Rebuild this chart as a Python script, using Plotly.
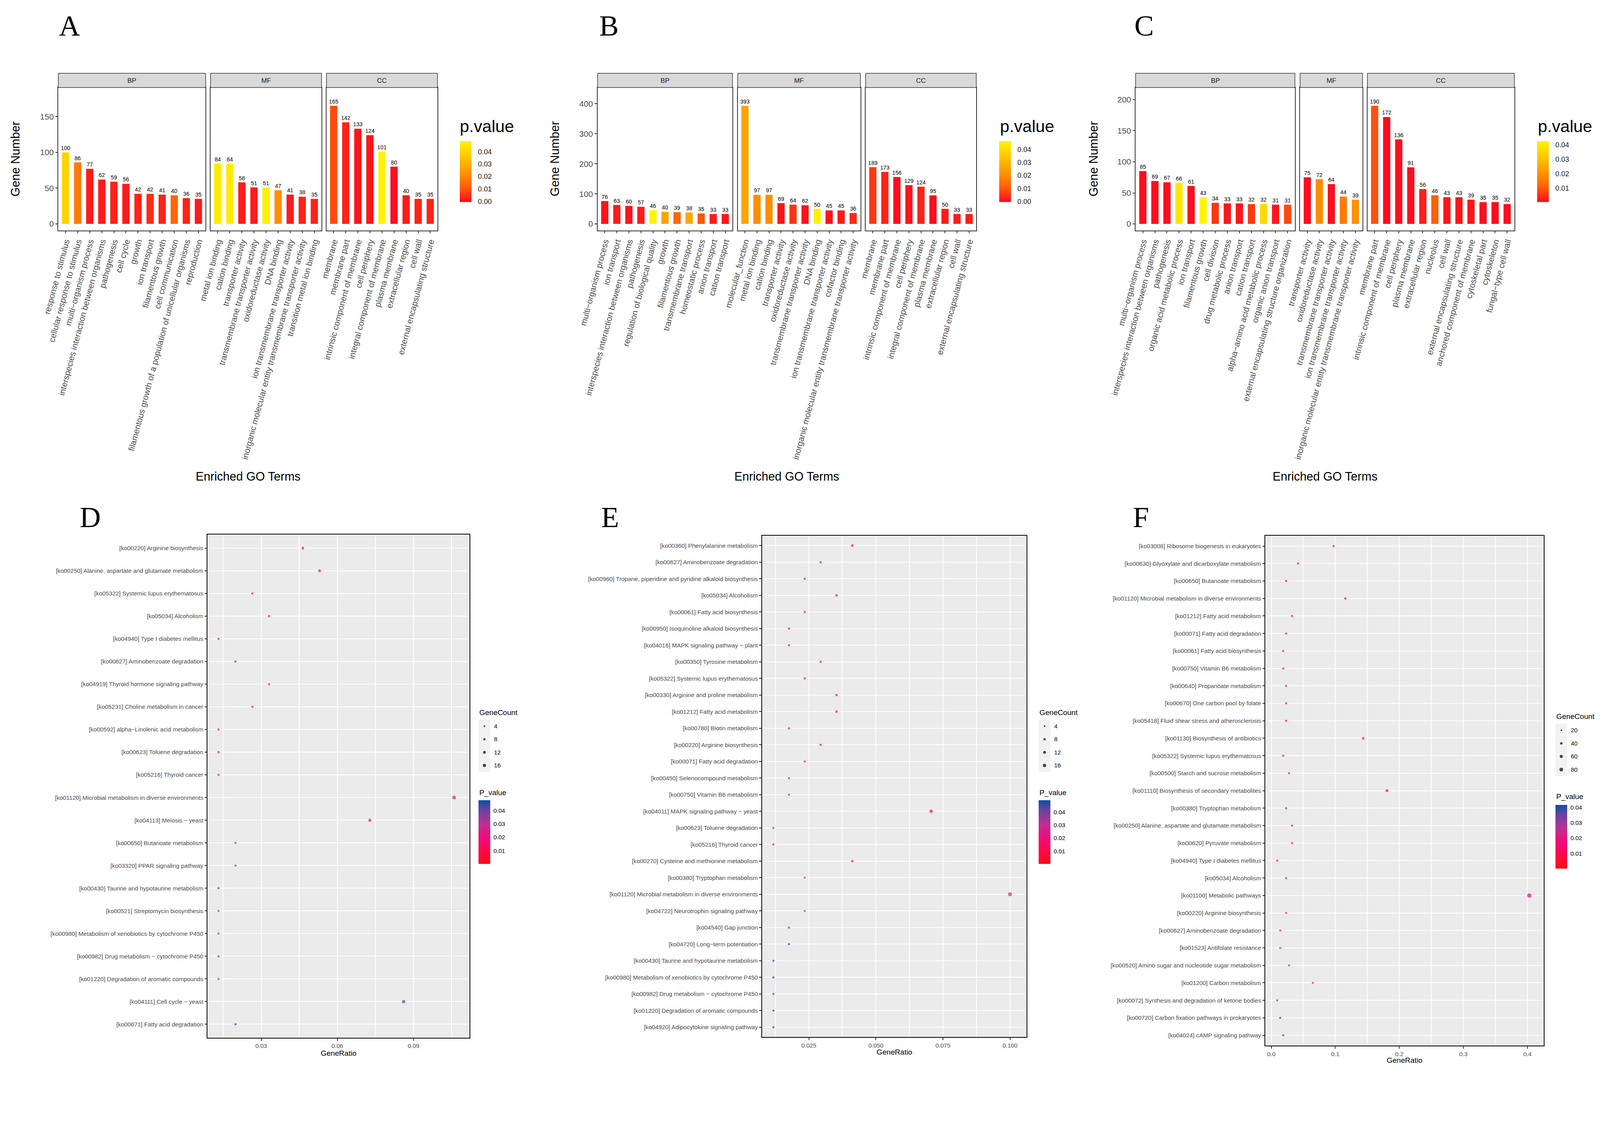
import plotly.graph_objects as go

# Design coordinates are taken from the 4279x2869 reference; the page is laid out
# in CSS pixels of a 4096-wide viewport, so everything is scaled by S.
REF_W, REF_H = 4279, 2869
S = 4096 / 4279
OFF = 8  # default body margin of the page
FW = 4096 - OFF
FH = int(round(REF_H * S - OFF))
FONT = "Liberation Sans"
SERIF = "Liberation Serif"

# ---------------- DATA ----------------
A_BP_terms = ["response to stimulus", "cellular response to stimulus", "multi−organism process",
              "interspecies interaction between organisms", "pathogenesis", "cell cycle", "growth",
              "ion transport", "filamentous growth", "cell communication",
              "filamentous growth of a population of unicellular organisms", "reproduction"]
A_BP_counts = [100, 86, 77, 62, 59, 56, 42, 42, 41, 40, 36, 35]
A_BP_p = [0.039, 0.018, 0.002, 0.002, 0.003, 0.002, 0.003, 0.0045, 0.003, 0.013, 0.003, 0.002]
A_MF_terms = ["metal ion binding", "cation binding", "transporter activity",
              "transmembrane transporter activity", "oxidoreductase activity", "DNA binding",
              "ion transmembrane transporter activity",
              "inorganic molecular entity transmembrane transporter activity", "transition metal ion binding"]
A_MF_counts = [84, 84, 58, 51, 51, 47, 41, 38, 35]
A_MF_p = [0.046, 0.046, 0.002, 0.002, 0.047, 0.022, 0.002, 0.003, 0.003]
A_CC_terms = ["membrane", "membrane part", "intrinsic component of membrane", "cell periphery",
              "integral component of membrane", "plasma membrane", "extracellular region", "cell wall",
              "external encapsulating structure"]
A_CC_counts = [165, 142, 133, 124, 101, 80, 40, 35, 35]
A_CC_p = [0.009, 0.003, 0.001, 0.001, 0.0486, 0.0001, 0.002, 0.003, 0.003]

B_BP_terms = ["multi−organism process", "ion transport", "interspecies interaction between organisms",
              "pathogenesis", "regulation of biological quality", "growth", "filamentous growth",
              "transmembrane transport", "homeostatic process", "anion transport", "cation transport"]
B_BP_counts = [76, 63, 60, 57, 46, 40, 39, 38, 35, 33, 33]
B_BP_p = [0.001, 0.002, 0.001, 0.002, 0.0464, 0.026, 0.0125, 0.027, 0.010, 0.002, 0.001]
B_MF_terms = ["molecular_function", "metal ion binding", "cation binding", "transporter activity",
              "oxidoreductase activity", "transmembrane transporter activity", "DNA binding",
              "ion transmembrane transporter activity", "cofactor binding",
              "inorganic molecular entity transmembrane transporter activity"]
B_MF_counts = [393, 97, 97, 69, 64, 62, 50, 45, 45, 36]
B_MF_p = [0.026, 0.021, 0.021, 0.001, 0.0055, 0.001, 0.0455, 0.001, 0.002, 0.004]
B_CC_terms = ["membrane", "membrane part", "intrinsic component of membrane", "cell periphery",
              "integral component of membrane", "plasma membrane", "extracellular region", "cell wall",
              "external encapsulating structure"]
B_CC_counts = [189, 173, 156, 129, 124, 95, 50, 33, 33]
B_CC_p = [0.006, 0.003, 0.0002, 0.001, 0.003, 0.0001, 0.002, 0.002, 0.002]

C_BP_terms = ["multi−organism process", "interspecies interaction between organisms", "pathogenesis",
              "organic acid metabolic process", "ion transport", "filamentous growth", "cell division",
              "drug metabolic process", "anion transport", "cation transport",
              "alpha−amino acid metabolic process", "organic anion transport",
              "external encapsulating structure organization"]
C_BP_counts = [85, 69, 67, 66, 61, 43, 34, 33, 33, 32, 32, 31, 31]
C_BP_p = [0.001, 0.001, 0.001, 0.039, 0.001, 0.0425, 0.006, 0.002, 0.002, 0.006, 0.036, 0.002, 0.008]
C_MF_terms = ["transporter activity", "oxidoreductase activity", "transmembrane transporter activity",
              "ion transmembrane transporter activity",
              "inorganic molecular entity transmembrane transporter activity"]
C_MF_counts = [75, 72, 64, 44, 39]
C_MF_p = [0.001, 0.019, 0.001, 0.016, 0.020]
C_CC_terms = ["membrane part", "intrinsic component of membrane", "cell periphery", "plasma membrane",
              "extracellular region", "nucleolus", "cell wall", "external encapsulating structure",
              "anchored component of membrane", "cytoskeletal part", "cytoskeleton", "fungal−type cell wall"]
C_CC_counts = [190, 172, 136, 91, 56, 46, 43, 43, 39, 35, 35, 32]
C_CC_p = [0.009, 0.0005, 0.001, 0.001, 0.003, 0.011, 0.002, 0.002, 0.002, 0.001, 0.001, 0.001]

D_terms = ["[ko00220] Arginine biosynthesis", "[ko00250] Alanine, aspartate and glutamate metabolism",
           "[ko05322] Systemic lupus erythematosus", "[ko05034] Alcoholism", "[ko04940] Type I diabetes mellitus",
           "[ko00627] Aminobenzoate degradation", "[ko04919] Thyroid hormone signaling pathway",
           "[ko05231] Choline metabolism in cancer", "[ko00592] alpha−Linolenic acid metabolism",
           "[ko00623] Toluene degradation", "[ko05216] Thyroid cancer",
           "[ko01120] Microbial metabolism in diverse environments", "[ko04113] Meiosis − yeast",
           "[ko00650] Butanoate metabolism", "[ko03320] PPAR signaling pathway",
           "[ko00430] Taurine and hypotaurine metabolism", "[ko00521] Streptomycin biosynthesis",
           "[ko00980] Metabolism of xenobiotics by cytochrome P450", "[ko00982] Drug metabolism − cytochrome P450",
           "[ko01220] Degradation of aromatic compounds", "[ko04111] Cell cycle − yeast",
           "[ko00071] Fatty acid degradation"]
D_ratio = [0.0464, 0.0530, 0.0265, 0.0331, 0.0132, 0.0199, 0.0331, 0.0265, 0.0132, 0.0132, 0.0132,
           0.1060, 0.0728, 0.0199, 0.0199, 0.0132, 0.0132, 0.0132, 0.0132, 0.0132, 0.0861, 0.0199]
D_count = [7, 8, 4, 5, 2, 3, 5, 4, 2, 2, 2, 16, 11, 3, 3, 2, 2, 2, 2, 2, 13, 3]
D_p = [0.0001, 0.001, 0.003, 0.004, 0.008, 0.005, 0.006, 0.007, 0.012, 0.014, 0.014, 0.026, 0.028,
       0.033, 0.033, 0.036, 0.036, 0.036, 0.036, 0.036, 0.041, 0.0475]
D_size_breaks = [4, 8, 12, 16]

E_terms = ["[ko00360] Phenylalanine metabolism", "[ko00627] Aminobenzoate degradation",
           "[ko00960] Tropane, piperidine and pyridine alkaloid biosynthesis", "[ko05034] Alcoholism",
           "[ko00061] Fatty acid biosynthesis", "[ko00950] Isoquinoline alkaloid biosynthesis",
           "[ko04016] MAPK signaling pathway − plant", "[ko00350] Tyrosine metabolism",
           "[ko05322] Systemic lupus erythematosus", "[ko00330] Arginine and proline metabolism",
           "[ko01212] Fatty acid metabolism", "[ko00780] Biotin metabolism", "[ko00220] Arginine biosynthesis",
           "[ko00071] Fatty acid degradation", "[ko00450] Selenocompound metabolism",
           "[ko00750] Vitamin B6 metabolism", "[ko04011] MAPK signaling pathway − yeast",
           "[ko00623] Toluene degradation", "[ko05216] Thyroid cancer",
           "[ko00270] Cysteine and methionine metabolism", "[ko00380] Tryptophan metabolism",
           "[ko01120] Microbial metabolism in diverse environments", "[ko04722] Neurotrophin signaling pathway",
           "[ko04540] Gap junction", "[ko04720] Long−term potentiation",
           "[ko00430] Taurine and hypotaurine metabolism", "[ko00980] Metabolism of xenobiotics by cytochrome P450",
           "[ko00982] Drug metabolism − cytochrome P450", "[ko01220] Degradation of aromatic compounds",
           "[ko04920] Adipocytokine signaling pathway"]
E_ratio = [0.0412, 0.0294, 0.0235, 0.0353, 0.0235, 0.0176, 0.0176, 0.0294, 0.0235, 0.0353, 0.0353,
           0.0176, 0.0294, 0.0235, 0.0176, 0.0176, 0.0706, 0.0118, 0.0118, 0.0412, 0.0235, 0.1000,
           0.0235, 0.0176, 0.0176, 0.0118, 0.0118, 0.0118, 0.0118, 0.0118]
E_count = [7, 5, 4, 6, 4, 3, 3, 5, 4, 6, 6, 3, 5, 4, 3, 3, 12, 2, 2, 7, 4, 17, 4, 3, 3, 2, 2, 2, 2, 2]
E_p = [0.0001, 0.001, 0.002, 0.002, 0.003, 0.003, 0.003, 0.004, 0.004, 0.004, 0.005, 0.005, 0.006,
       0.008, 0.013, 0.014, 0.018, 0.018, 0.019, 0.025, 0.028, 0.032, 0.034, 0.046, 0.046, 0.047,
       0.048, 0.048, 0.048, 0.0489]
E_size_breaks = [4, 8, 12, 16]

F_terms = ["[ko03008] Ribosome biogenesis in eukaryotes", "[ko00630] Glyoxylate and dicarboxylate metabolism",
           "[ko00650] Butanoate metabolism", "[ko01120] Microbial metabolism in diverse environments",
           "[ko01212] Fatty acid metabolism", "[ko00071] Fatty acid degradation",
           "[ko00061] Fatty acid biosynthesis", "[ko00750] Vitamin B6 metabolism",
           "[ko00640] Propanoate metabolism", "[ko00670] One carbon pool by folate",
           "[ko05418] Fluid shear stress and atherosclerosis", "[ko01130] Biosynthesis of antibiotics",
           "[ko05322] Systemic lupus erythematosus", "[ko00500] Starch and sucrose metabolism",
           "[ko01110] Biosynthesis of secondary metabolites", "[ko00380] Tryptophan metabolism",
           "[ko00250] Alanine, aspartate and glutamate metabolism", "[ko00620] Pyruvate metabolism",
           "[ko04940] Type I diabetes mellitus", "[ko05034] Alcoholism", "[ko01100] Metabolic pathways",
           "[ko00220] Arginine biosynthesis", "[ko00627] Aminobenzoate degradation",
           "[ko01523] Antifolate resistance", "[ko00520] Amino sugar and nucleotide sugar metabolism",
           "[ko01200] Carbon metabolism", "[ko00072] Synthesis and degradation of ketone bodies",
           "[ko00720] Carbon fixation pathways in prokaryotes", "[ko04024] cAMP signaling pathway"]
F_ratio = [0.0972, 0.0417, 0.0231, 0.1157, 0.0324, 0.0231, 0.0185, 0.0185, 0.0231, 0.0231, 0.0231,
           0.1435, 0.0185, 0.0278, 0.1806, 0.0231, 0.0324, 0.0324, 0.0093, 0.0231, 0.4028, 0.0231,
           0.0139, 0.0139, 0.0278, 0.0648, 0.0093, 0.0139, 0.0185]
F_count = [21, 9, 5, 25, 7, 5, 4, 4, 5, 5, 5, 31, 4, 6, 39, 5, 7, 7, 2, 5, 87, 5, 3, 3, 6, 14, 2, 3, 4]
F_p = [0.0002, 0.001, 0.002, 0.002, 0.003, 0.003, 0.004, 0.004, 0.005, 0.005, 0.006, 0.007, 0.007,
       0.008, 0.009, 0.011, 0.012, 0.013, 0.014, 0.015, 0.016, 0.019, 0.021, 0.022, 0.026, 0.028,
       0.035, 0.037, 0.0416]
F_size_breaks = [20, 40, 60, 80]

# ---------------- STYLE ----------------
BAR_SCALE = [[0, "#FF0A1E"], [0.25, "#FF6008"], [0.5, "#FF9800"], [0.75, "#FFC800"], [1, "#FFF500"]]
DOT_SCALE = [[0, "#FF0A14"], [0.2, "#FF0848"], [0.42, "#F00A7C"], [0.63, "#BE3090"],
             [0.84, "#6A44A0"], [1, "#0B50AA"]]

fig = go.Figure()
axes = {}
shapes = []
annots = []


def fx(p):
    return (p * S - OFF) / FW


def fy(p):
    return 1 - (p * S - OFF) / FH


def sz(v):
    return v * S


def nm(i):
    return "" if i == 1 else str(i)


def text(x, y, s, size, color="black", family=FONT, xanchor="center", yanchor="middle", angle=0):
    annots.append(dict(x=fx(x), y=fy(y), xref="paper", yref="paper", text=s, showarrow=False,
                       font=dict(family=family, size=sz(size), color=color), xanchor=xanchor,
                       yanchor=yanchor, textangle=angle))


def bar_facet(i, terms, counts, pvals, x0, x1, cax, yrange, ytickvals, show_y, strip):
    n = nm(i)
    fig.add_trace(go.Bar(
        x=terms, y=counts, width=0.6,
        marker=dict(color=pvals, coloraxis=cax, line=dict(width=0)),
        text=[str(c) for c in counts], textposition="outside", textangle=0,
        constraintext="none", cliponaxis=False,
        textfont=dict(family=FONT, size=sz(15), color="black"),
        xaxis="x" + n, yaxis="y" + n, showlegend=False, hoverinfo="skip"))
    axes["xaxis" + n] = dict(
        domain=[fx(x0), fx(x1)], anchor="y" + n, type="category", categoryorder="array",
        categoryarray=terms, range=[-0.6, len(terms) - 0.4], tickangle=-75,
        ticks="outside", ticklen=sz(6), tickwidth=1.5, tickcolor="#333333",
        tickfont=dict(family=FONT, size=sz(22.5), color="#4D4D4D"),
        showline=True, mirror=True, linecolor="#333333", linewidth=1.5,
        showgrid=False, zeroline=False, automargin=False)
    axes["yaxis" + n] = dict(
        domain=[fy(616), fy(234)], anchor="x" + n, range=yrange, tickvals=ytickvals,
        ticks="outside" if show_y else "", ticklen=sz(6), tickwidth=1.5, tickcolor="#333333",
        showticklabels=show_y, tickfont=dict(family=FONT, size=sz(22), color="#4D4D4D"),
        showline=True, mirror=True, linecolor="#333333", linewidth=1.5,
        showgrid=False, zeroline=False, automargin=False)
    shapes.append(dict(type="rect", xref="paper", yref="paper", x0=fx(x0), x1=fx(x1),
                       y0=fy(234), y1=fy(196), fillcolor="#D9D9D9",
                       line=dict(color="#333333", width=1.5)))
    text((x0 + x1) / 2, 215, strip, 18, color="#1A1A1A")


def bar_colorbar(k, left, tickvals, crange=None):
    ca = dict(colorscale=BAR_SCALE, colorbar=dict(
        x=fx(left), xanchor="left", y=fy(377), yanchor="top", len=sz(163), lenmode="pixels",
        thickness=sz(31), thicknessmode="pixels", xpad=0, ypad=0, outlinewidth=0,
        ticks="outside", ticklen=sz(14), tickcolor="rgba(0,0,0,0)", tickvals=tickvals, tickformat=".2f",
        tickfont=dict(family=FONT, size=sz(19), color="#1A1A1A"), title=dict(text="")))
    if crange is not None:
        ca["cmin"], ca["cmax"] = crange
    axes["coloraxis" + ("" if k == 1 else str(k))] = ca


# ----- Panel A -----
bar_facet(1, A_BP_terms, A_BP_counts, A_BP_p, 156, 550, "coloraxis", [-9.075, 190.575], [0, 50, 100, 150], True, "BP")
bar_facet(2, A_MF_terms, A_MF_counts, A_MF_p, 563, 860, "coloraxis", [-9.075, 190.575], [0, 50, 100, 150], False, "MF")
bar_facet(3, A_CC_terms, A_CC_counts, A_CC_p, 873, 1170, "coloraxis", [-9.075, 190.575], [0, 50, 100, 150], False, "CC")
bar_colorbar(1, 1230, [0, 0.01, 0.02, 0.03, 0.04], crange=(-0.0004, max(A_BP_p + A_MF_p + A_CC_p)))
text(1228, 337, "p.value", 45, xanchor="left")
text(41, 425, "Gene Number", 32, angle=-90)
text(663, 1273, "Enriched GO Terms", 32)
text(186, 68, "A", 78, family=SERIF)

# ----- Panel B -----
bar_facet(4, B_BP_terms, B_BP_counts, B_BP_p, 1598, 1959, "coloraxis2", [-21.6, 453.9], [0, 100, 200, 300, 400], True, "BP")
bar_facet(5, B_MF_terms, B_MF_counts, B_MF_p, 1973, 2301, "coloraxis2", [-21.6, 453.9], [0, 100, 200, 300, 400], False, "MF")
bar_facet(6, B_CC_terms, B_CC_counts, B_CC_p, 2315, 2611, "coloraxis2", [-21.6, 453.9], [0, 100, 200, 300, 400], False, "CC")
bar_colorbar(2, 2672, [0, 0.01, 0.02, 0.03, 0.04], crange=(-0.0004, max(B_BP_p + B_MF_p + B_CC_p)))
text(2672, 337, "p.value", 45, xanchor="left")
text(1483, 425, "Gene Number", 32, angle=-90)
text(2104, 1273, "Enriched GO Terms", 32)
text(1629, 68, "B", 78, family=SERIF)

# ----- Panel C -----
bar_facet(7, C_BP_terms, C_BP_counts, C_BP_p, 3037, 3463, "coloraxis3", [-10.45, 219.45], [0, 50, 100, 150, 200], True, "BP")
bar_facet(8, C_MF_terms, C_MF_counts, C_MF_p, 3477, 3644, "coloraxis3", [-10.45, 219.45], [0, 50, 100, 150, 200], False, "MF")
bar_facet(9, C_CC_terms, C_CC_counts, C_CC_p, 3657, 4050, "coloraxis3", [-10.45, 219.45], [0, 50, 100, 150, 200], False, "CC")
bar_colorbar(3, 4111, [0.01, 0.02, 0.03, 0.04])
text(4111, 337, "p.value", 45, xanchor="left")
text(2924, 425, "Gene Number", 32, angle=-90)
text(3544, 1273, "Enriched GO Terms", 32)
text(3060, 68, "C", 78, family=SERIF)


# ----- Dot panels -----
def dot_panel(i, terms, ratio, counts, pvals, x0, x1, y0, y1, xrange, dtick, fmt, k, maxpx,
              breaks, lx, ly_title, box_top, p_title_y, cb_top, letter, letter_x, title_y):
    n = nm(i)
    ln = nm(i + 1)
    cax = "coloraxis" + str(k)
    sref = 2.0 * max(counts) / (sz(maxpx) ** 2)
    fig.add_trace(go.Scatter(
        x=ratio, y=terms, mode="markers",
        marker=dict(size=counts, sizemode="area", sizeref=sref, sizemin=sz(2.8),
                    color=pvals, coloraxis=cax, line=dict(width=0)),
        xaxis="x" + n, yaxis="y" + n, showlegend=False, hoverinfo="skip", cliponaxis=False))
    axes["xaxis" + n] = dict(
        domain=[fx(x0), fx(x1)], anchor="y" + n, range=xrange, tick0=0, dtick=dtick, tickformat=fmt,
        ticks="outside", ticklen=sz(6), tickwidth=1.5, tickcolor="#333333",
        tickfont=dict(family=FONT, size=sz(16), color="#4D4D4D"),
        showgrid=True, gridcolor="white", gridwidth=2,
        minor=dict(dtick=dtick / 2, tick0=0, showgrid=True, gridcolor="white", gridwidth=1.5),
        showline=True, mirror=True, linecolor="black", linewidth=2,
        zeroline=False, automargin=False)
    axes["yaxis" + n] = dict(
        domain=[fy(y1), fy(y0)], anchor="x" + n, type="category", categoryorder="array",
        categoryarray=terms, range=[len(terms) - 0.4, -0.6],
        ticks="outside", ticklen=sz(6), tickwidth=1.5, tickcolor="#333333",
        tickfont=dict(family=FONT, size=sz(16), color="#4D4D4D"),
        showgrid=True, gridcolor="white", gridwidth=2,
        showline=True, mirror=True, linecolor="black", linewidth=2,
        zeroline=False, automargin=False)
    shapes.append(dict(type="rect", xref="x" + n + " domain", yref="y" + n + " domain",
                       x0=0, x1=1, y0=0, y1=1, fillcolor="#EBEBEB", line=dict(width=0), layer="below"))
    text((x0 + x1) / 2, title_y, "GeneRatio", 20)
    text(letter_x, 1383, letter, 78, family=SERIF)

    # size legend
    box_h = 35 * len(breaks)
    fig.add_trace(go.Scatter(
        x=[0] * len(breaks), y=[str(b) for b in breaks], mode="markers",
        marker=dict(size=breaks, sizemode="area", sizeref=sref, sizemin=sz(2.8), color="black"),
        xaxis="x" + ln, yaxis="y" + ln, showlegend=False, hoverinfo="skip", cliponaxis=False))
    axes["xaxis" + ln] = dict(domain=[fx(lx), fx(lx + 31)], anchor="y" + ln, range=[-1, 1], visible=False)
    axes["yaxis" + ln] = dict(
        domain=[fy(box_top + box_h), fy(box_top)], anchor="x" + ln, type="category",
        categoryorder="array", categoryarray=[str(b) for b in breaks],
        range=[len(breaks) - 0.5, -0.5], side="right", ticks="outside", ticklen=sz(6),
        tickcolor="rgba(0,0,0,0)", showgrid=False, zeroline=False, showline=False,
        tickfont=dict(family=FONT, size=sz(16), color="black"), automargin=False)
    shapes.append(dict(type="rect", xref="paper", yref="paper", x0=fx(lx), x1=fx(lx + 31),
                       y0=fy(box_top + box_h), y1=fy(box_top), fillcolor="#F2F2F2",
                       line=dict(width=0), layer="below"))
    text(lx, ly_title, "GeneCount", 20, xanchor="left")
    text(lx, p_title_y, "P_value", 20, xanchor="left")
    axes[cax] = dict(colorscale=DOT_SCALE, colorbar=dict(
        x=fx(lx), xanchor="left", y=fy(cb_top), yanchor="top", len=sz(170), lenmode="pixels",
        thickness=sz(31), thicknessmode="pixels", xpad=0, ypad=0, outlinewidth=0,
        ticks="outside", ticklen=sz(6), tickcolor="rgba(0,0,0,0)",
        tickvals=[0.01, 0.02, 0.03, 0.04], tickformat=".2f",
        tickfont=dict(family=FONT, size=sz(16), color="black"), title=dict(text="")))


dot_panel(10, D_terms, D_ratio, D_count, D_p, 555, 1256, 1429, 2775, [0.00885, 0.1121], 0.03, ".2f", 4, 10,
          D_size_breaks, 1280, 1905, 1924, 2120, 2140, "D", 241, 2816)
dot_panel(12, E_terms, E_ratio, E_count, E_p, 2038, 2745, 1432, 2773, [0.00757, 0.1061], 0.025, ".3f", 5, 10.5,
          E_size_breaks, 2778, 1905, 1924, 2120, 2140, "E", 1632, 2813)
dot_panel(14, F_terms, F_ratio, F_count, F_p, 3384, 4129, 1432, 2796, [-0.0093, 0.4257], 0.1, ".1f", 6, 11.5,
          F_size_breaks, 4160, 1915, 1935, 2130, 2152, "F", 3052, 2835)

fig.update_layout(
    width=FW, height=FH, margin=dict(l=0, r=0, t=0, b=0, pad=0),
    paper_bgcolor="white", plot_bgcolor="white", showlegend=False,
    font=dict(family=FONT, color="black"),
    shapes=shapes, annotations=annots, **axes)

fig.write_html("out.html")
